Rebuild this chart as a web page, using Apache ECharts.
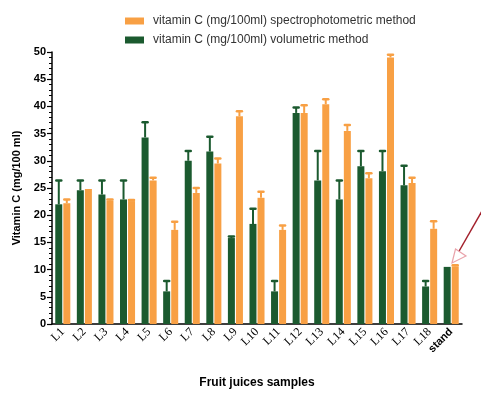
<!DOCTYPE html>
<html><head><meta charset="utf-8">
<script src="https://cdn.jsdelivr.net/npm/echarts@6/dist/echarts.min.js"></script>
<style>html,body{margin:0;padding:0;background:#fff}#c{width:481px;height:394px}</style>
</head><body><div id="c"></div>
<script>
const categories = ['L1','L2','L3','L4','L5','L6','L7','L8','L9','L10','L11','L12','L13','L14','L15','L16','L17','L18','stand'];
const volumetric = [22.0,24.6,23.8,22.9,34.3,6.0,30.0,31.7,15.8,18.4,6.0,38.8,26.4,22.9,29.0,28.1,25.5,6.9,10.5];
const volumetricErr = [26.4,26.4,26.4,26.4,37.1,7.9,31.8,34.4,16.1,21.2,7.9,39.8,31.8,26.4,31.8,31.8,29.1,7.9,10.5];
const spectro = [22.2,24.8,22.7,22.6,26.4,17.3,24.1,29.5,38.2,23.2,17.3,38.8,40.4,35.5,26.8,49.0,25.9,17.5,10.6];
const spectroErr = [22.9,24.9,22.9,22.8,26.9,18.8,25.0,30.4,39.1,24.3,18.1,40.2,41.3,36.6,27.7,49.5,26.9,18.9,10.8];
const yTicks = [0,5,10,15,20,25,30,35,40,45,50];

const GREEN = '#1b5a2f', ORANGE = '#f8a044';
const BW = 7;

function errSeries(name, vals, errs, color, side) {
  return {
    name: name, type: 'custom', z: 5, silent: true,
    data: vals.map((v, i) => [i, v, errs[i]]),
    renderItem: function (params, api) {
      const i = api.value(0), v = api.value(1), e = api.value(2);
      if (e - v < 0.15) return null;
      const p0 = api.coord([i, v]);
      const p1 = api.coord([i, e]);
      const x = p0[0] + side * (BW / 2 + 0.5);
      return {
        type: 'group', children: [
          { type: 'line', shape: { x1: x, y1: p0[1], x2: x, y2: p1[1] }, style: { stroke: color, lineWidth: 2 } },
          { type: 'line', shape: { x1: x - 2.5, y1: p1[1], x2: x + 2.5, y2: p1[1] }, style: { stroke: color, lineWidth: 2.5, lineCap: 'round' } }
        ]
      };
    }
  };
}

const chart = echarts.init(document.getElementById('c'), null, { renderer: 'canvas' });
chart.setOption({
  animation: false,
  legend: {
    orient: 'vertical', left: 120, top: 10, itemWidth: 19, itemHeight: 7, itemGap: 7,
    icon: 'rect',
    data: ['vitamin C (mg/100ml) spectrophotometric method', 'vitamin C (mg/100ml) volumetric method'],
    textStyle: { fontFamily: 'Liberation Sans', fontSize: 12, color: '#333', padding: [0, 0, 0, 4] }
  },
  grid: { left: 52, right: 19, top: 52, bottom: 62 },
  xAxis: {
    type: 'category', data: categories,
    name: 'Fruit juices samples', nameLocation: 'middle', nameGap: 53,
    nameTextStyle: { fontFamily: 'Liberation Sans', fontWeight: 'bold', fontSize: 12, color: '#000' },
    axisLine: { lineStyle: { color: '#000', width: 1.5 } },
    axisTick: { alignWithLabel: true, length: 4, lineStyle: { color: '#000', width: 1.5 } },
    axisLabel: {
      rotate: 45, margin: 6, interval: 0, color: '#000',
      fontFamily: 'Liberation Serif', fontSize: 12,
      formatter: v => v === 'stand' ? '{b|' + v + '}' : v,
      rich: { b: { fontFamily: 'Liberation Sans', fontWeight: 'bold', fontSize: 11, color: '#000' } }
    }
  },
  yAxis: {
    type: 'value', min: yTicks[0], max: yTicks[yTicks.length - 1], interval: 5,
    name: 'Vitamin C (mg/100 ml)', nameLocation: 'middle', nameGap: 28,
    nameTextStyle: { fontFamily: 'Liberation Sans', fontWeight: 'bold', fontSize: 11, color: '#000' },
    axisLine: { show: true, lineStyle: { color: '#000', width: 1.5 } },
    axisTick: { show: true, length: 5, lineStyle: { color: '#000', width: 1.2 } },
    minorTick: { show: true, splitNumber: 5, length: 3, lineStyle: { color: '#000', width: 1 } },
    splitLine: { show: false },
    axisLabel: { fontFamily: 'Liberation Sans', fontWeight: 'bold', fontSize: 11, color: '#000', margin: 6 }
  },
  series: [
    { name: 'vitamin C (mg/100ml) volumetric method', type: 'bar', data: volumetric, barWidth: BW, barGap: '15%',
      itemStyle: { color: GREEN } },
    { name: 'vitamin C (mg/100ml) spectrophotometric method', type: 'bar', data: spectro, barWidth: BW,
      itemStyle: { color: ORANGE } },
    errSeries('vitamin C (mg/100ml) volumetric method', volumetric, volumetricErr, GREEN, -1),
    errSeries('vitamin C (mg/100ml) spectrophotometric method', spectro, spectroErr, ORANGE, 1)
  ],
  graphic: [
    { type: 'line', shape: { x1: 482, y1: 211, x2: 458, y2: 253 }, style: { stroke: '#a3202c', lineWidth: 1.5 }, z: 10 },
    { type: 'polygon', shape: { points: [[452, 263], [455.5, 249], [466, 256]] }, style: { fill: '#fff', stroke: '#e9a3ab', lineWidth: 1.2 }, z: 10 }
  ]
});
</script></body></html>
